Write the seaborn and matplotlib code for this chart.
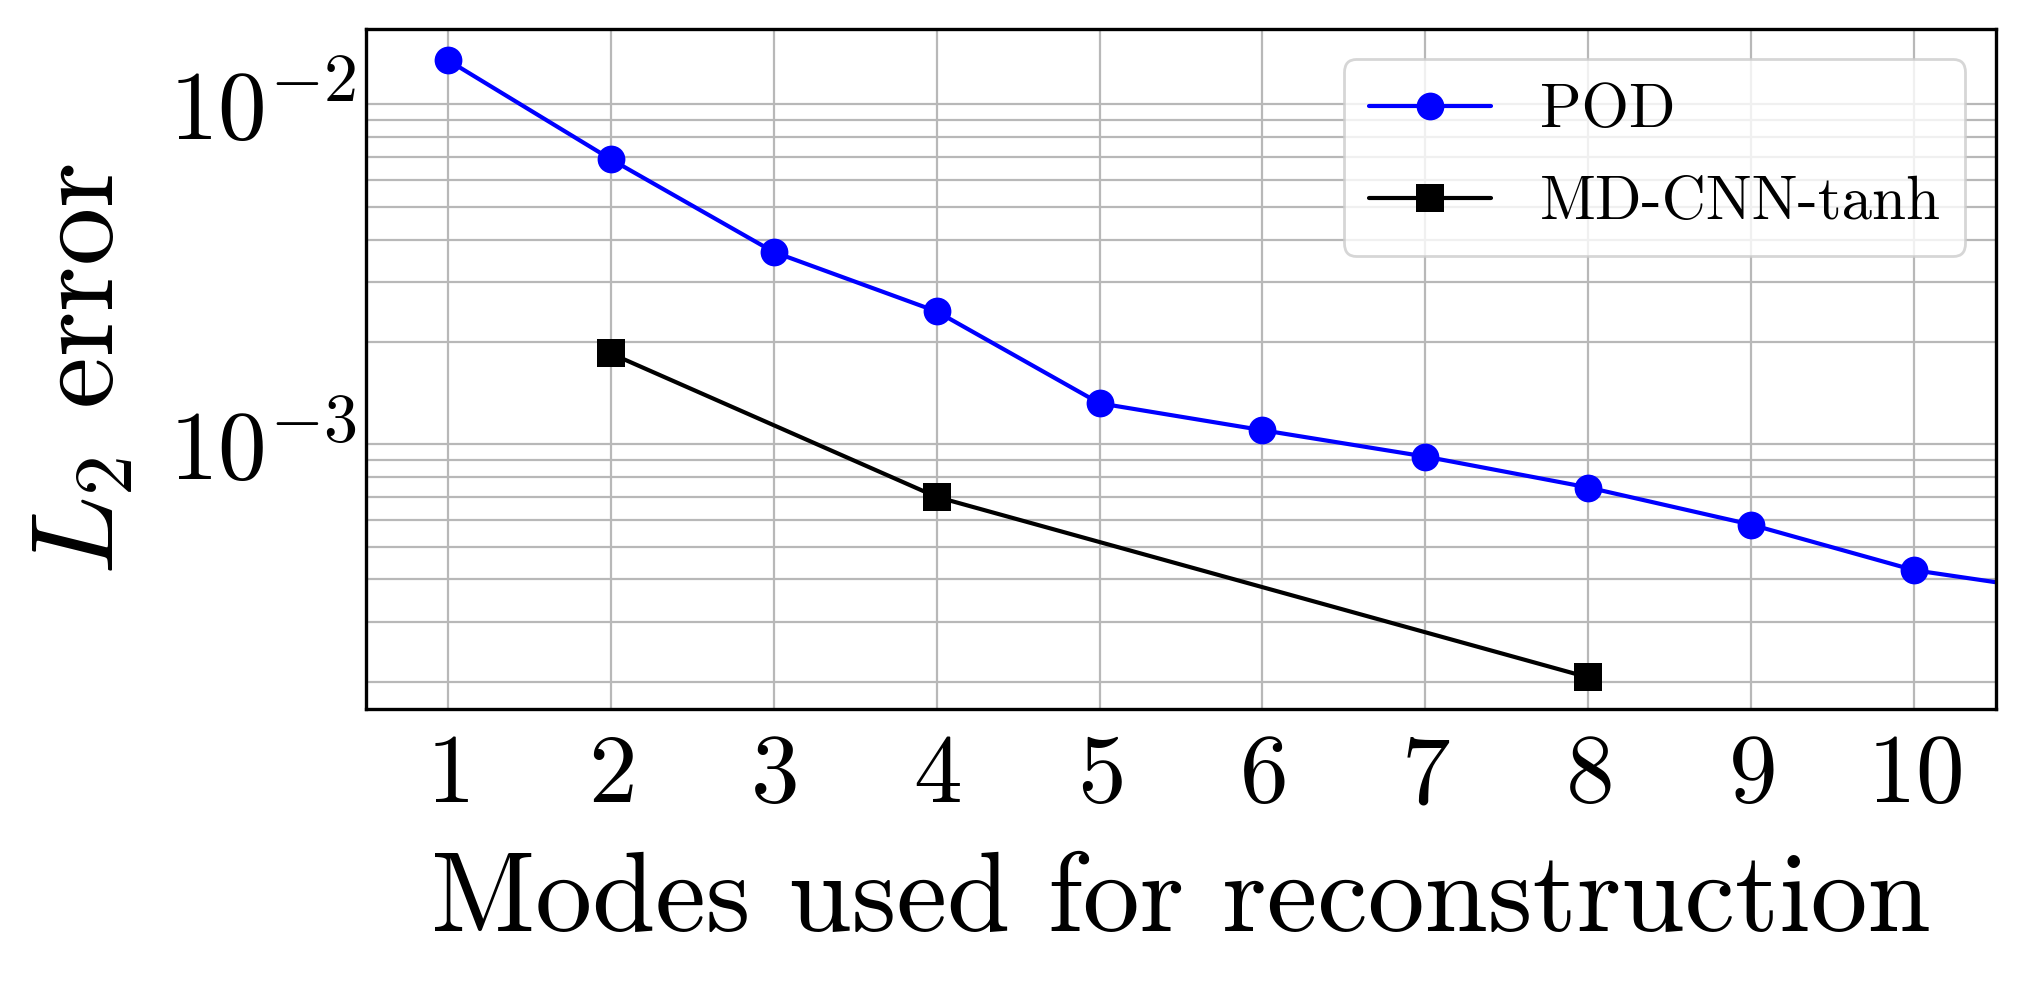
import numpy as np
import pandas as pd
import seaborn as sns
import matplotlib
matplotlib.use('Agg')
import matplotlib.pyplot as plt
from matplotlib.ticker import NullFormatter, LogLocator

# values
pod_modes = [1, 2, 3, 4, 5, 6, 7, 8, 9, 10, 11]
pod_error = [0.0135, 0.0069, 0.00368, 0.00246, 0.00132, 0.0011, 0.00092, 0.000746, 0.00058, 0.000426, 0.000362]
cnn_modes = [2, 4, 8]
cnn_error = [0.00185, 0.0007, 0.000206]
methods = ['POD', 'MD-CNN-tanh']

df = pd.concat([
    pd.DataFrame({'modes': pod_modes, 'error': pod_error, 'method': methods[0]}),
    pd.DataFrame({'modes': cnn_modes, 'error': cnn_error, 'method': methods[1]}),
])

sns.set_style('white')
plt.rcParams['font.family'] = ['cmr10', 'DejaVu Serif']
plt.rcParams['mathtext.fontset'] = 'cm'
plt.rcParams['axes.formatter.use_mathtext'] = True
plt.rcParams['axes.unicode_minus'] = False
plt.rcParams['text.color'] = 'black'
plt.rcParams['axes.labelcolor'] = 'black'
plt.rcParams['xtick.color'] = 'black'
plt.rcParams['ytick.color'] = 'black'

fig, ax = plt.subplots(figsize=(10.12, 4.96), dpi=200)
sns.lineplot(data=df, x='modes', y='error', hue='method', style='method',
             markers={'POD': 'o', 'MD-CNN-tanh': 's'}, dashes=False,
             palette={'POD': 'blue', 'MD-CNN-tanh': 'black'},
             markersize=10, markeredgewidth=0, linewidth=1.5, ax=ax)

ax.set_yscale('log')
ax.set_xlim(0.5, 10.5)
ax.set_ylim(1.66e-4, 0.0167)
ax.set_xticks(range(1, 11))
ax.yaxis.set_minor_locator(LogLocator(base=10, subs=np.arange(2, 10)))
ax.yaxis.set_minor_formatter(NullFormatter())

ax.grid(True, which='major', color='#b8b8b8', linewidth=0.8)
ax.grid(True, which='minor', axis='y', color='#b8b8b8', linewidth=0.8)
ax.tick_params(which='both', direction='in', labelsize=35, colors='black')
ax.tick_params(axis='x', which='major', pad=9)
ax.tick_params(which='major', length=5, width=1)
ax.tick_params(which='minor', length=3, width=1)
for s in ax.spines.values():
    s.set_color('black')
    s.set_linewidth(1.2)

ax.set_xlabel('Modes used for reconstruction', fontsize=41, labelpad=11)
ax.set_ylabel('$L_2$ error', fontsize=42, labelpad=12)
ax.legend(title=None, fontsize=22, loc='upper right', framealpha=0.8,
          edgecolor='#cccccc', labelspacing=0.6)

fig.subplots_adjust(left=0.181, right=0.986, top=0.971, bottom=0.285)
fig.savefig('out.png')
